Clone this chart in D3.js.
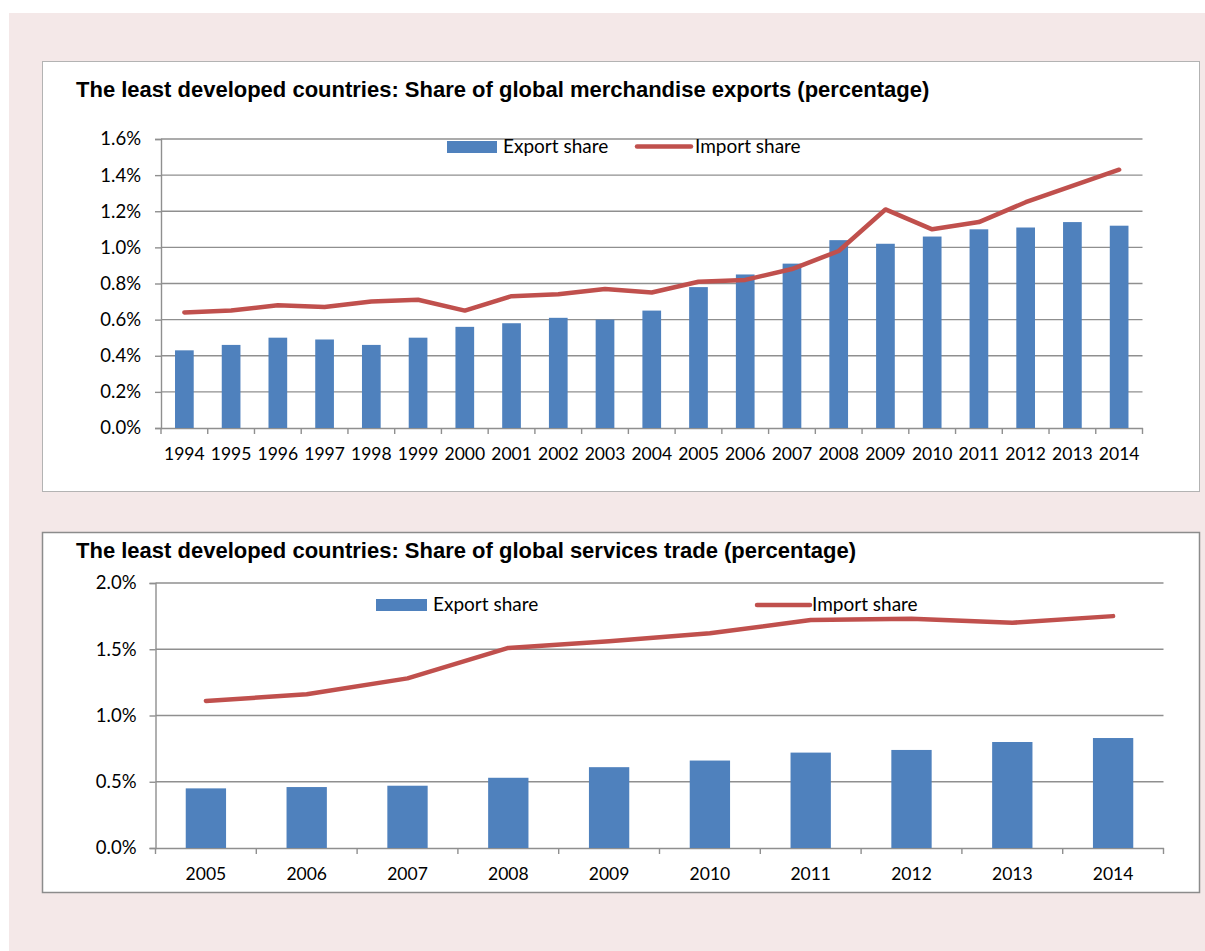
<!DOCTYPE html>
<html>
<head>
<meta charset="utf-8">
<script src="https://cdn.jsdelivr.net/npm/d3@7/dist/d3.min.js"></script>
<style>
  html, body { margin: 0; padding: 0; background: #ffffff; }
  svg { display: block; }
</style>
</head>
<body>
<svg id="chart" width="1205" height="951"></svg>
<script>
// ---- Merchandise trade (share of world, %) ----
const merchYears = ["1994","1995","1996","1997","1998","1999","2000","2001","2002","2003","2004",
                    "2005","2006","2007","2008","2009","2010","2011","2012","2013","2014"];
const merchExport = [0.43,0.46,0.50,0.49,0.46,0.50,0.56,0.58,0.61,0.60,0.65,
                     0.78,0.85,0.91,1.04,1.02,1.06,1.10,1.11,1.14,1.12];
const merchImport = [0.64,0.65,0.68,0.67,0.70,0.71,0.65,0.73,0.74,0.77,0.75,
                     0.81,0.82,0.88,0.98,1.21,1.10,1.14,1.25,1.34,1.43];
const merchTicks = [0,0.2,0.4,0.6,0.8,1.0,1.2,1.4,1.6];

// ---- Services trade (share of world, %) ----
const servYears = ["2005","2006","2007","2008","2009","2010","2011","2012","2013","2014"];
const servExport = [0.45,0.46,0.47,0.53,0.61,0.66,0.72,0.74,0.80,0.83];
const servImport = [1.11,1.16,1.28,1.51,1.56,1.62,1.72,1.73,1.70,1.75];
const servTicks = [0,0.5,1.0,1.5,2.0];

const seriesNames = ["Export share", "Import share"];
const titles = [
  "The least developed countries: Share of global merchandise exports (percentage)",
  "The least developed countries: Share of global services trade (percentage)"
];

const BAR = "#4f81bd", LINE = "#c0504d", GRID = "#8f8f8f";
const LABEL_FONT = "Lato, 'Open Sans', 'Liberation Sans', sans-serif";
const TITLE_FONT = "'Liberation Sans', Arial, sans-serif";

const svg = d3.select("#chart");

// page background
svg.append("rect").attr("x", 9).attr("y", 13).attr("width", 1196).attr("height", 938).attr("fill", "#f4e8e8");

function drawPanel(cfg) {
  const g = svg.append("g");
  g.append("rect")
    .attr("x", cfg.box[0]).attr("y", cfg.box[1])
    .attr("width", cfg.box[2]).attr("height", cfg.box[3])
    .attr("fill", "#ffffff").attr("stroke", cfg.boxStroke).attr("stroke-width", cfg.boxWidth);

  g.append("text").attr("x", 76).attr("y", cfg.titleY)
    .attr("font-family", TITLE_FONT).attr("font-weight", "bold").attr("font-size", 22)
    .attr("fill", "#000").text(cfg.title);

  const x = d3.scaleBand().domain(cfg.cats).range([cfg.x0, cfg.x1]).paddingInner(0.6).paddingOuter(0.3);
  const y = d3.scaleLinear().domain([0, d3.max(cfg.ticks)]).range([cfg.y0, cfg.y1]);

  // horizontal gridlines
  g.append("g").selectAll("line").data(cfg.ticks.slice(1)).join("line")
    .attr("x1", cfg.x0).attr("x2", cfg.x1)
    .attr("y1", d => y(d)).attr("y2", d => y(d))
    .attr("stroke", GRID).attr("stroke-width", 1.4);

  // y axis
  const yAxis = g.append("g").attr("transform", `translate(${cfg.x0},0)`)
    .call(d3.axisLeft(y).tickValues(cfg.ticks).tickFormat(d => d3.format(".1f")(d) + "%").tickSize(6).tickPadding(cfg.yPad));
  // x axis
  const xAxis = g.append("g").attr("transform", `translate(0,${cfg.y0})`)
    .call(d3.axisBottom(x).tickSize(0).tickPadding(cfg.xPad));
  [yAxis, xAxis].forEach(a => {
    a.select(".domain").attr("stroke", GRID).attr("stroke-width", 1.4);
    a.selectAll(".tick line").attr("stroke", GRID).attr("stroke-width", 1.4);
    a.selectAll("text").attr("font-family", LABEL_FONT).attr("font-size", cfg.labelSize).attr("fill", "#000");
  });
  yAxis.selectAll("text").attr("font-size", cfg.yLabelSize);
  // x boundary ticks between categories
  const bounds = d3.range(cfg.cats.length + 1).map(i => cfg.x0 + i * x.step());
  g.append("g").selectAll("line").data(bounds).join("line")
    .attr("x1", d => d).attr("x2", d => d)
    .attr("y1", cfg.y0).attr("y2", cfg.y0 + 6)
    .attr("stroke", GRID).attr("stroke-width", 1.4);

  // bars
  g.append("g").selectAll("rect").data(cfg.cats).join("rect")
    .attr("x", d => x(d)).attr("width", x.bandwidth())
    .attr("y", (d, i) => y(cfg.exp[i])).attr("height", (d, i) => cfg.y0 - y(cfg.exp[i]))
    .attr("fill", BAR);

  // line
  const line = d3.line().x((d, i) => x(cfg.cats[i]) + x.bandwidth() / 2).y(d => y(d));
  g.append("path").datum(cfg.imp).attr("d", line)
    .attr("fill", "none").attr("stroke", LINE).attr("stroke-width", 4.5)
    .attr("stroke-linejoin", "round").attr("stroke-linecap", "round");

  // legend
  const L = cfg.legend;
  g.append("rect").attr("x", L.rect[0]).attr("y", L.rect[1]).attr("width", L.rect[2]).attr("height", L.rect[3]).attr("fill", BAR);
  g.append("text").attr("x", L.t1[0]).attr("y", L.t1[1])
    .attr("font-family", LABEL_FONT).attr("font-size", cfg.legendSize).attr("fill", "#000").text(seriesNames[0]);
  g.append("line").attr("x1", L.line[0]).attr("x2", L.line[1]).attr("y1", L.line[2]).attr("y2", L.line[2])
    .attr("stroke", LINE).attr("stroke-width", 4.5).attr("stroke-linecap", "round");
  g.append("text").attr("x", L.t2[0]).attr("y", L.t2[1])
    .attr("font-family", LABEL_FONT).attr("font-size", cfg.legendSize).attr("fill", "#000").text(seriesNames[1]);
}

drawPanel({
  box: [42.5, 61.5, 1157, 430], boxStroke: "#b3b3b3", boxWidth: 1,
  title: titles[0], titleY: 97,
  cats: merchYears, exp: merchExport, imp: merchImport, ticks: merchTicks,
  x0: 161, x1: 1142.5, y0: 428, y1: 139,
  xPad: 20, yPad: 14, labelSize: 17.5, yLabelSize: 18.5, legendSize: 19,
  legend: { rect: [447, 141, 50, 12], t1: [503, 153], line: [637, 691, 146.5], t2: [695, 153] }
});

drawPanel({
  box: [42.5, 532.5, 1157, 360], boxStroke: "#8c8c8c", boxWidth: 1.5,
  title: titles[1], titleY: 558,
  cats: servYears, exp: servExport, imp: servImport, ticks: servTicks,
  x0: 155.5, x1: 1163.5, y0: 848, y1: 583,
  xPad: 20, yPad: 13, labelSize: 17.5, yLabelSize: 18.5, legendSize: 19,
  legend: { rect: [376, 599, 51, 12], t1: [433, 611], line: [757, 810, 605], t2: [812, 611] }
});
</script>
</body>
</html>
